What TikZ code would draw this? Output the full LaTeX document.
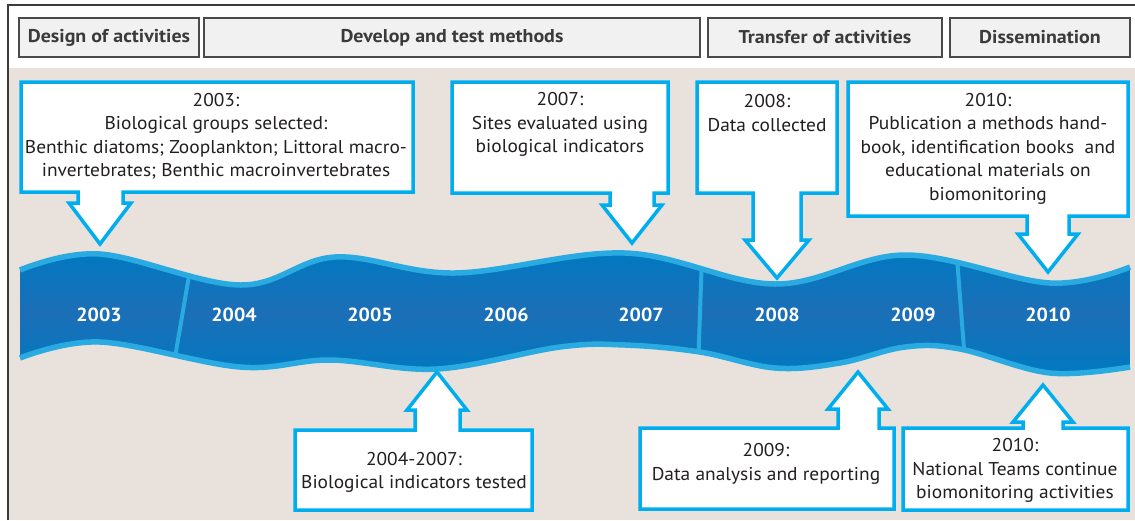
\documentclass[tikz,border=0pt]{standalone}
\usepackage{fontspec}
\setmainfont{PT Sans}[FakeStretch=1.05]
\newfontfamily\hdrfont{PT Sans}[FakeStretch=1.08]
\definecolor{framec}{HTML}{3A3A3A}
\definecolor{beige}{HTML}{E8E1DC}
\definecolor{hdrfill}{HTML}{F1F1F1}
\definecolor{hdrdraw}{HTML}{4A4A4A}
\definecolor{hdrtext}{HTML}{3A3A3A}
\definecolor{cyanline}{HTML}{00AEEF}
\definecolor{txt}{HTML}{231F20}
\definecolor{rbedge}{HTML}{29ABE2}
\definecolor{rbA}{HTML}{0098D9}
\definecolor{rbB}{HTML}{0079C1}
\definecolor{rbC}{HTML}{1C6FB7}
\pgfdeclareverticalshading{ribbonshade}{100bp}{color(0bp)=(rbA); color(25bp)=(rbB); color(50bp)=(rbC); color(75bp)=(rbB); color(100bp)=(rbA)}
\begin{document}
\begin{tikzpicture}[x=1pt,y=-1pt,
 hdr/.style={draw=hdrdraw, fill=hdrfill, line width=1.5pt, minimum height=39pt, inner sep=0pt, font=\hdrfont\fontsize{18.5}{20}\selectfont\bfseries, text=hdrtext},
 callout/.style={draw=cyanline, fill=white, line width=3.5pt, line join=miter},
 ctext/.style={font=\fontsize{18.5}{23.5}\selectfont, text=txt, align=center, inner sep=0pt},
 year/.style={font=\fontsize{19}{20}\selectfont\bfseries, text=white, inner sep=0pt},
 rbborder/.style={draw=rbedge, line width=5.5pt},
 divider/.style={draw=rbedge, line width=4pt}]

\useasboundingbox (0,0) rectangle (1135,520);
\fill[white] (8,5) rectangle (1135,68);
\fill[beige] (9,68) rectangle (1135,520);
\draw[framec, line width=2pt] (8,520) -- (8,5) -- (1135,5);

% header
\node[hdr, minimum width=180pt] (h1) at (109,37.5) {Design of activities};
\node[hdr, minimum width=496pt] (h2) at (452,37.5) {Develop and test methods};
\node[hdr, minimum width=234pt] (h3) at (825,37.5) {Transfer of activities};
\node[hdr, minimum width=180pt] (h4) at (1040,37.5) {Dissemination};

% ribbon
\begin{scope}
\clip plot[smooth,tension=0.6] coordinates {(20,270) (100,254) (240,285) (335,257) (455,273) (625,253) (775,284) (905,255) (1050,283) (1130,267)}
 -- plot[smooth,tension=0.6] coordinates {(1130,367) (1050,373) (960,349) (905,347) (840,363) (775,368) (700,352) (625,345) (560,347) (437,369) (330,360) (240,367) (100,342) (20,358)} -- cycle;
\shade[shading=ribbonshade] (20,250) rectangle (1130,376);
\draw[divider] (190,270) -- (172,375);
\draw[divider] (702,255) -- (698,370);
\draw[divider] (956,245) -- (966,375);
\end{scope}
\draw[rbborder] plot[smooth,tension=0.6] coordinates {(20,270) (100,254) (240,285) (335,257) (455,273) (625,253) (775,284) (905,255) (1050,283) (1130,267)};
\draw[rbborder] plot[smooth,tension=0.6] coordinates {(1130,367) (1050,373) (960,349) (905,347) (840,363) (775,368) (700,352) (625,345) (560,347) (437,369) (330,360) (240,367) (100,342) (20,358)};

\node[year] (y2003) at (99,315) {2003};
\node[year] (y2004) at (234,315) {2004};
\node[year] (y2005) at (370,315) {2005};
\node[year] (y2006) at (506,315) {2006};
\node[year] (y2007) at (641,315) {2007};
\node[year] (y2008) at (777,315) {2008};
\node[year] (y2009) at (913,315) {2009};
\node[year] (y2010) at (1048,315) {2010};

% top callouts
\draw[callout] (21,82) -- (413,82) -- (413,192) -- (123,192) -- (123,203) -- (131,203) -- (100,244) -- (69,203) -- (78,203) -- (78,192) -- (21,192) -- cycle;
\node[ctext] (c2003) at (216,136.5) {2003:\\Biological groups selected:\\Benthic diatoms; Zooplankton; Littoral macro-\\invertebrates; Benthic macroinvertebrates};

\draw[callout] (452,82) -- (668,82) -- (668,193) -- (654,193) -- (654,205) -- (662,205) -- (632,243) -- (602,205) -- (610,205) -- (610,193) -- (452,193) -- cycle;
\node[ctext] (c2007) at (560,124.5) {2007:\\Sites evaluated using\\biological indicators};

\draw[callout] (697,82) -- (837,82) -- (837,193) -- (801,193) -- (801,240) -- (809,240) -- (777,278) -- (745,240) -- (753,240) -- (753,193) -- (697,193) -- cycle;
\node[ctext] (c2008) at (767,113) {2008:\\Data collected};

\draw[callout] (848,82) -- (1128,82) -- (1128,216) -- (1069,216) -- (1069,234) -- (1078,234) -- (1048,272) -- (1018,234) -- (1027,234) -- (1027,216) -- (848,216) -- cycle;
\node[ctext] (c2010a) at (988,148.5) {2010:\\Publication a methods hand-\\book, identification books\ \ and\\educational materials on\\biomonitoring};

% bottom callouts
\draw[callout] (295,430) -- (415,430) -- (415,410) -- (407,410) -- (437,372) -- (467,410) -- (460,410) -- (460,430) -- (532,430) -- (532,510) -- (295,510) -- cycle;
\node[ctext] (c0407) at (414,472.5) {2004-2007:\\Biological indicators tested};

\draw[callout] (640,428) -- (838,428) -- (838,409) -- (828,409) -- (858,372) -- (888,409) -- (879,409) -- (879,428) -- (894,428) -- (894,509) -- (640,509) -- cycle;
\node[ctext] (c2009) at (766,464) {2009:\\Data analysis and reporting};

\draw[callout] (903,428) -- (1023,428) -- (1023,422) -- (1013,422) -- (1043,385) -- (1073,422) -- (1063,422) -- (1063,428) -- (1128,428) -- (1128,510) -- (903,510) -- cycle;
\node[ctext] (c2010b) at (1015,470.5) {2010:\\National Teams continue\\biomonitoring activities};
\end{tikzpicture}
\end{document}
